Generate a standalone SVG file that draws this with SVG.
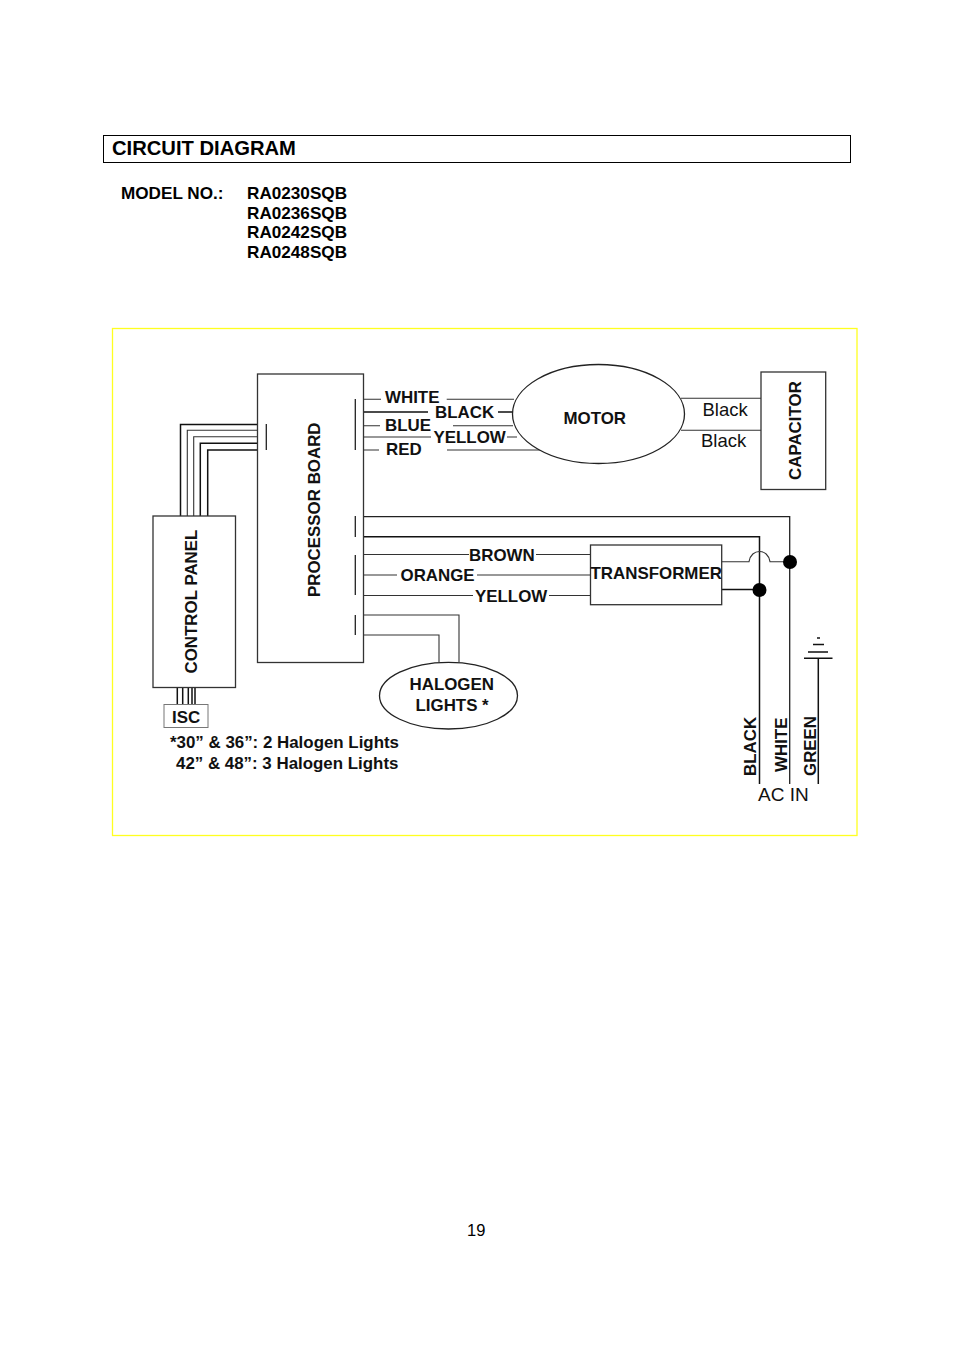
<svg xmlns="http://www.w3.org/2000/svg" width="954" height="1350" viewBox="0 0 954 1350">
<style>
text{font-family:"Liberation Sans",Arial,sans-serif;fill:#111}
.b{font-weight:bold}
.h{font-size:17.15px;font-weight:bold;fill:#000}
.l{font-size:16.9px;font-weight:bold}
.box{fill:none;stroke:#333;stroke-width:1.3}
.w{fill:none;stroke:#333;stroke-width:1.1}
.k{fill:none;stroke:#111;stroke-width:1.5}
.t{fill:none;stroke:#222;stroke-width:1.3}
.d{fill:#000}
</style>
<rect width="954" height="1350" fill="#fff"/>
<g id="header">
<rect x="103.5" y="135.5" width="747" height="27" fill="none" stroke="#000" stroke-width="1"/>
<text x="112" y="155" class="b" style="font-size:20.2px;fill:#000">CIRCUIT DIAGRAM</text>
<text x="121" y="199" class="h">MODEL NO.:</text>
<text x="247" y="199" class="h">RA0230SQB</text>
<text x="247" y="218.5" class="h">RA0236SQB</text>
<text x="247" y="238" class="h">RA0242SQB</text>
<text x="247" y="258" class="h">RA0248SQB</text>
</g>
<rect id="frame" x="112.5" y="328.5" width="744.5" height="507" fill="none" stroke="#ffff20" stroke-width="1.3"/>
<g id="connectors">
<path class="k" d="M180.5 516V424.5H257.5"/>
<path class="w" d="M187.3 516V430.3H257.5M193.7 516V436.7H257.5"/>
<path class="k" d="M200.3 516V443.3H257.5M207.7 516V450H257.5"/>
<path class="t" d="M266.3 424V450M355.3 399V450M355.3 516V537M355.3 555V595M355.3 615V635"/>
<path class="w" d="M363.5 399.3H381M446.7 399.3H514"/>
<path class="k" d="M363.5 412H428M498 412H513"/>
<path class="w" d="M363.5 425.7H380M453 425.7H513"/>
<path class="w" d="M363.5 437H431M507 437H517"/>
<path class="w" d="M363.5 450H379M447 450H540"/>
<path class="w" d="M681 398.3H761M681 430.3H761"/>
<path class="t" d="M363.5 516.7H789.7V784"/>
<path class="k" d="M363.5 536.7H759.5V784"/>
<path class="w" d="M363.5 554.5H469M536 554.5H590.5"/>
<path class="w" d="M363.5 575H397M477 575H590.5"/>
<path class="w" d="M363.5 595.5H473M549 595.5H590.5"/>
<path class="w" d="M363.5 615H459V662"/>
<path class="w" d="M363.5 635H439V662"/>
<path class="k" d="M177.3 688V704.5M182.7 688V704.5M188.3 688V704.5M192 688V704.5M195 688V704.5"/>
<path class="w" d="M722 561.7H749C751 548 768 548 770 561.7H790"/>
<path class="k" d="M722 589.5H759.5"/>
<circle class="d" cx="790" cy="562" r="7"/>
<circle class="d" cx="759.5" cy="590" r="7"/>
</g>
<g id="processor-board">
<rect class="box" x="257.5" y="374" width="106" height="288.5"/>
<text class="l" transform="translate(320,597) rotate(-90)">PROCESSOR BOARD</text>
</g>
<g id="control-panel">
<rect class="box" x="153" y="516" width="82.5" height="171.5"/>
<text class="l" transform="translate(197,673.5) rotate(-90)">CONTROL PANEL</text>
</g>
<g id="isc">
<rect x="164" y="704.5" width="44" height="23" fill="none" stroke="#777" stroke-width="1"/>
<text class="l" x="172" y="722.5">ISC</text>
</g>
<g id="motor">
<ellipse cx="598.5" cy="414" rx="86" ry="49.5" fill="#fff" stroke="#222" stroke-width="1.3"/>
<text class="l" x="563.5" y="424">MOTOR</text>
</g>
<g id="capacitor">
<rect class="box" x="761" y="372" width="64.7" height="117.5"/>
<text class="l" transform="translate(800.5,480) rotate(-90)">CAPACITOR</text>
</g>
<g id="transformer">
<rect class="box" x="590.5" y="545" width="131.2" height="59.7"/>
<text class="l" x="590.5" y="579">TRANSFORMER</text>
</g>
<g id="halogen-lights">
<ellipse cx="448.5" cy="695.7" rx="69" ry="33.3" fill="#fff" stroke="#222" stroke-width="1.3"/>
<text class="l" x="409.5" y="690">HALOGEN</text>
<text class="l" x="415.5" y="711">LIGHTS *</text>
</g>
<g id="ground">
<path class="k" d="M818.3 658.3V784M804 658.3H832.5M808 652H828M813 644.5H824M817 638H820"/>
</g>
<g id="labels">
<text class="l" x="385" y="403">WHITE</text>
<text class="l" x="435" y="417.5">BLACK</text>
<text class="l" x="385" y="430.5">BLUE</text>
<text class="l" x="433.5" y="442.5">YELLOW</text>
<text class="l" x="386" y="454.5">RED</text>
<text x="702.5" y="416" style="font-size:18.5px">Black</text>
<text x="701" y="447" style="font-size:18.5px">Black</text>
<text class="l" x="469" y="560.5">BROWN</text>
<text class="l" x="400.5" y="580.5">ORANGE</text>
<text class="l" x="475" y="601.5">YELLOW</text>
<text class="l" x="170" y="748">*30” &amp; 36”: 2 Halogen Lights</text>
<text class="l" x="176" y="769">42” &amp; 48”: 3 Halogen Lights</text>
<text class="l" transform="translate(756,776) rotate(-90)">BLACK</text>
<text class="l" transform="translate(787,772) rotate(-90)">WHITE</text>
<text class="l" transform="translate(815.5,776) rotate(-90)">GREEN</text>
<text x="758" y="800.5" style="font-size:19px">AC IN</text>
</g>
<text id="page-number" x="467" y="1236" style="font-size:16.5px;fill:#000">19</text>
</svg>
